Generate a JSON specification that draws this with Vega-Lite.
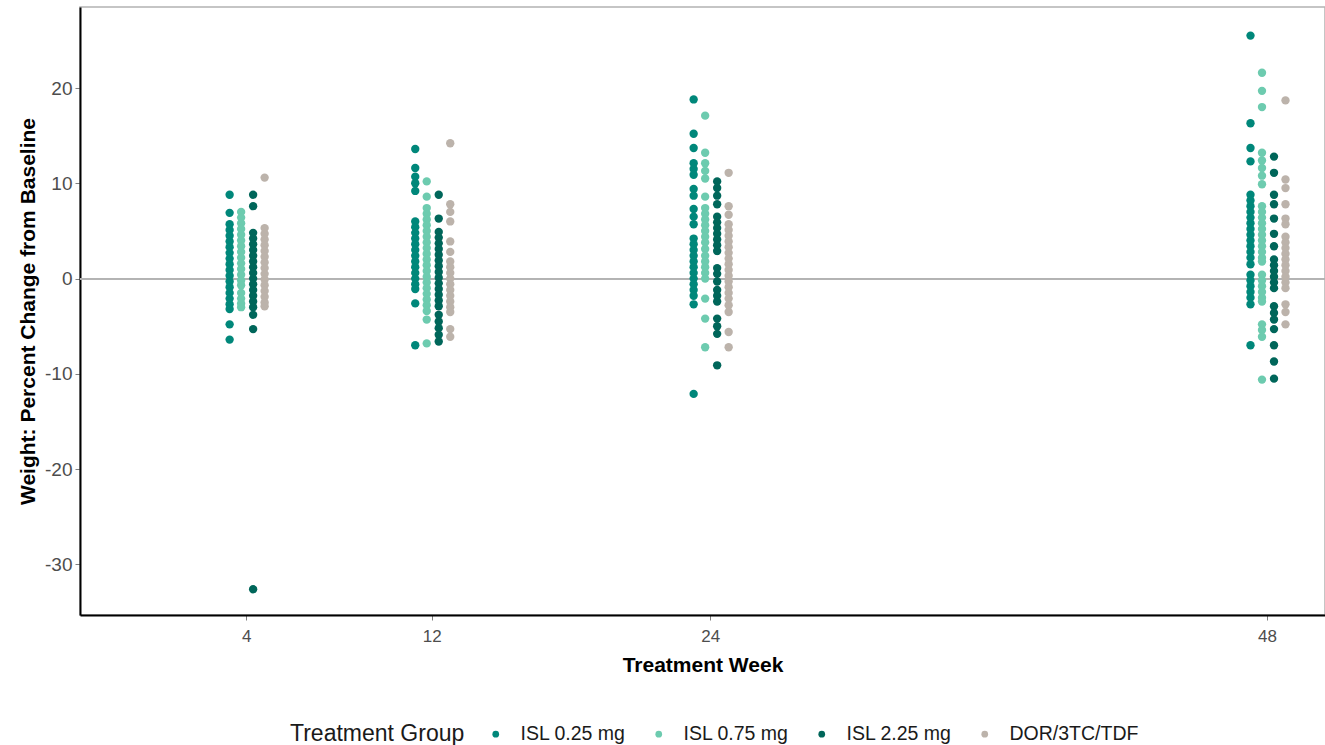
{
"$schema": "https://vega.github.io/schema/vega-lite/v6.json",
"width": 1245, "height": 608,
"autosize": "none",
"padding": {"left": 80, "top": 7, "right": 0, "bottom": 130},
"config": {
  "view": {"stroke": "#b3b3b3", "strokeWidth": 1.5},
  "font": "Liberation Sans",
  "axis": {"grid": false, "domainColor": "#000000", "domainWidth": 2, "tickColor": "#7f7f7f", "tickSize": 5, "tickWidth": 1, "labelColor": "#4d4d4d", "labelFontSize": 19, "titleFontSize": 21, "titleColor": "#000000", "titleFontWeight": "bold"}
},
"data": {"values": [
{"week":4,"group":"ISL 0.25 mg","pct":8.8},{"week":4,"group":"ISL 0.25 mg","pct":6.9},{"week":4,"group":"ISL 0.25 mg","pct":5.7},{"week":4,"group":"ISL 0.25 mg","pct":5.1},{"week":4,"group":"ISL 0.25 mg","pct":4.5},{"week":4,"group":"ISL 0.25 mg","pct":3.9},{"week":4,"group":"ISL 0.25 mg","pct":3.3},{"week":4,"group":"ISL 0.25 mg","pct":2.7},{"week":4,"group":"ISL 0.25 mg","pct":2.1},{"week":4,"group":"ISL 0.25 mg","pct":1.5},{"week":4,"group":"ISL 0.25 mg","pct":0.9},{"week":4,"group":"ISL 0.25 mg","pct":0.3},{"week":4,"group":"ISL 0.25 mg","pct":-0.3},{"week":4,"group":"ISL 0.25 mg","pct":-0.9},{"week":4,"group":"ISL 0.25 mg","pct":-1.5},{"week":4,"group":"ISL 0.25 mg","pct":-2.1},{"week":4,"group":"ISL 0.25 mg","pct":-2.7},{"week":4,"group":"ISL 0.25 mg","pct":-3.2},{"week":4,"group":"ISL 0.25 mg","pct":-4.8},{"week":4,"group":"ISL 0.25 mg","pct":-6.4},
{"week":4,"group":"ISL 0.75 mg","pct":7.0},{"week":4,"group":"ISL 0.75 mg","pct":6.4},{"week":4,"group":"ISL 0.75 mg","pct":5.8},{"week":4,"group":"ISL 0.75 mg","pct":5.2},{"week":4,"group":"ISL 0.75 mg","pct":4.6},{"week":4,"group":"ISL 0.75 mg","pct":4.0},{"week":4,"group":"ISL 0.75 mg","pct":3.4},{"week":4,"group":"ISL 0.75 mg","pct":2.8},{"week":4,"group":"ISL 0.75 mg","pct":2.2},{"week":4,"group":"ISL 0.75 mg","pct":1.6},{"week":4,"group":"ISL 0.75 mg","pct":1.0},{"week":4,"group":"ISL 0.75 mg","pct":0.4},{"week":4,"group":"ISL 0.75 mg","pct":-0.2},{"week":4,"group":"ISL 0.75 mg","pct":-0.7},{"week":4,"group":"ISL 0.75 mg","pct":-1.5},{"week":4,"group":"ISL 0.75 mg","pct":-2.1},{"week":4,"group":"ISL 0.75 mg","pct":-2.6},{"week":4,"group":"ISL 0.75 mg","pct":-3.0},
{"week":4,"group":"ISL 2.25 mg","pct":8.8},{"week":4,"group":"ISL 2.25 mg","pct":7.6},{"week":4,"group":"ISL 2.25 mg","pct":4.8},{"week":4,"group":"ISL 2.25 mg","pct":4.2},{"week":4,"group":"ISL 2.25 mg","pct":3.6},{"week":4,"group":"ISL 2.25 mg","pct":3.0},{"week":4,"group":"ISL 2.25 mg","pct":2.4},{"week":4,"group":"ISL 2.25 mg","pct":1.8},{"week":4,"group":"ISL 2.25 mg","pct":1.2},{"week":4,"group":"ISL 2.25 mg","pct":0.6},{"week":4,"group":"ISL 2.25 mg","pct":0.0},{"week":4,"group":"ISL 2.25 mg","pct":-0.6},{"week":4,"group":"ISL 2.25 mg","pct":-1.2},{"week":4,"group":"ISL 2.25 mg","pct":-1.8},{"week":4,"group":"ISL 2.25 mg","pct":-2.4},{"week":4,"group":"ISL 2.25 mg","pct":-3.0},{"week":4,"group":"ISL 2.25 mg","pct":-3.8},{"week":4,"group":"ISL 2.25 mg","pct":-5.3},{"week":4,"group":"ISL 2.25 mg","pct":-32.6},
{"week":4,"group":"DOR/3TC/TDF","pct":10.6},{"week":4,"group":"DOR/3TC/TDF","pct":5.3},{"week":4,"group":"DOR/3TC/TDF","pct":4.7},{"week":4,"group":"DOR/3TC/TDF","pct":4.1},{"week":4,"group":"DOR/3TC/TDF","pct":3.5},{"week":4,"group":"DOR/3TC/TDF","pct":2.9},{"week":4,"group":"DOR/3TC/TDF","pct":2.3},{"week":4,"group":"DOR/3TC/TDF","pct":1.7},{"week":4,"group":"DOR/3TC/TDF","pct":1.1},{"week":4,"group":"DOR/3TC/TDF","pct":0.5},{"week":4,"group":"DOR/3TC/TDF","pct":-0.1},{"week":4,"group":"DOR/3TC/TDF","pct":-0.7},{"week":4,"group":"DOR/3TC/TDF","pct":-1.3},{"week":4,"group":"DOR/3TC/TDF","pct":-1.9},{"week":4,"group":"DOR/3TC/TDF","pct":-2.5},{"week":4,"group":"DOR/3TC/TDF","pct":-2.9},
{"week":12,"group":"ISL 0.25 mg","pct":13.6},{"week":12,"group":"ISL 0.25 mg","pct":11.6},{"week":12,"group":"ISL 0.25 mg","pct":10.7},{"week":12,"group":"ISL 0.25 mg","pct":10.0},{"week":12,"group":"ISL 0.25 mg","pct":9.2},{"week":12,"group":"ISL 0.25 mg","pct":6.0},{"week":12,"group":"ISL 0.25 mg","pct":5.4},{"week":12,"group":"ISL 0.25 mg","pct":4.8},{"week":12,"group":"ISL 0.25 mg","pct":4.2},{"week":12,"group":"ISL 0.25 mg","pct":3.6},{"week":12,"group":"ISL 0.25 mg","pct":3.0},{"week":12,"group":"ISL 0.25 mg","pct":2.4},{"week":12,"group":"ISL 0.25 mg","pct":1.8},{"week":12,"group":"ISL 0.25 mg","pct":1.2},{"week":12,"group":"ISL 0.25 mg","pct":0.6},{"week":12,"group":"ISL 0.25 mg","pct":0.0},{"week":12,"group":"ISL 0.25 mg","pct":-0.6},{"week":12,"group":"ISL 0.25 mg","pct":-1.1},{"week":12,"group":"ISL 0.25 mg","pct":-2.6},{"week":12,"group":"ISL 0.25 mg","pct":-7.0},
{"week":12,"group":"ISL 0.75 mg","pct":10.2},{"week":12,"group":"ISL 0.75 mg","pct":8.6},{"week":12,"group":"ISL 0.75 mg","pct":7.4},{"week":12,"group":"ISL 0.75 mg","pct":6.8},{"week":12,"group":"ISL 0.75 mg","pct":6.2},{"week":12,"group":"ISL 0.75 mg","pct":5.6},{"week":12,"group":"ISL 0.75 mg","pct":5.0},{"week":12,"group":"ISL 0.75 mg","pct":4.4},{"week":12,"group":"ISL 0.75 mg","pct":3.8},{"week":12,"group":"ISL 0.75 mg","pct":3.2},{"week":12,"group":"ISL 0.75 mg","pct":2.6},{"week":12,"group":"ISL 0.75 mg","pct":2.0},{"week":12,"group":"ISL 0.75 mg","pct":1.4},{"week":12,"group":"ISL 0.75 mg","pct":0.8},{"week":12,"group":"ISL 0.75 mg","pct":0.2},{"week":12,"group":"ISL 0.75 mg","pct":-0.4},{"week":12,"group":"ISL 0.75 mg","pct":-1.0},{"week":12,"group":"ISL 0.75 mg","pct":-1.6},{"week":12,"group":"ISL 0.75 mg","pct":-2.2},{"week":12,"group":"ISL 0.75 mg","pct":-2.8},{"week":12,"group":"ISL 0.75 mg","pct":-3.4},{"week":12,"group":"ISL 0.75 mg","pct":-4.3},{"week":12,"group":"ISL 0.75 mg","pct":-6.8},
{"week":12,"group":"ISL 2.25 mg","pct":8.8},{"week":12,"group":"ISL 2.25 mg","pct":6.3},{"week":12,"group":"ISL 2.25 mg","pct":4.9},{"week":12,"group":"ISL 2.25 mg","pct":4.3},{"week":12,"group":"ISL 2.25 mg","pct":3.7},{"week":12,"group":"ISL 2.25 mg","pct":3.1},{"week":12,"group":"ISL 2.25 mg","pct":2.5},{"week":12,"group":"ISL 2.25 mg","pct":1.9},{"week":12,"group":"ISL 2.25 mg","pct":1.3},{"week":12,"group":"ISL 2.25 mg","pct":0.7},{"week":12,"group":"ISL 2.25 mg","pct":0.1},{"week":12,"group":"ISL 2.25 mg","pct":-0.5},{"week":12,"group":"ISL 2.25 mg","pct":-1.1},{"week":12,"group":"ISL 2.25 mg","pct":-1.7},{"week":12,"group":"ISL 2.25 mg","pct":-2.3},{"week":12,"group":"ISL 2.25 mg","pct":-2.9},{"week":12,"group":"ISL 2.25 mg","pct":-3.8},{"week":12,"group":"ISL 2.25 mg","pct":-4.5},{"week":12,"group":"ISL 2.25 mg","pct":-5.2},{"week":12,"group":"ISL 2.25 mg","pct":-5.9},{"week":12,"group":"ISL 2.25 mg","pct":-6.6},
{"week":12,"group":"DOR/3TC/TDF","pct":14.2},{"week":12,"group":"DOR/3TC/TDF","pct":7.8},{"week":12,"group":"DOR/3TC/TDF","pct":7.0},{"week":12,"group":"DOR/3TC/TDF","pct":6.0},{"week":12,"group":"DOR/3TC/TDF","pct":3.9},{"week":12,"group":"DOR/3TC/TDF","pct":2.8},{"week":12,"group":"DOR/3TC/TDF","pct":1.8},{"week":12,"group":"DOR/3TC/TDF","pct":1.2},{"week":12,"group":"DOR/3TC/TDF","pct":0.6},{"week":12,"group":"DOR/3TC/TDF","pct":0.0},{"week":12,"group":"DOR/3TC/TDF","pct":-0.6},{"week":12,"group":"DOR/3TC/TDF","pct":-1.2},{"week":12,"group":"DOR/3TC/TDF","pct":-1.8},{"week":12,"group":"DOR/3TC/TDF","pct":-2.4},{"week":12,"group":"DOR/3TC/TDF","pct":-3.0},{"week":12,"group":"DOR/3TC/TDF","pct":-3.5},{"week":12,"group":"DOR/3TC/TDF","pct":-5.3},{"week":12,"group":"DOR/3TC/TDF","pct":-6.1},
{"week":24,"group":"ISL 0.25 mg","pct":18.8},{"week":24,"group":"ISL 0.25 mg","pct":15.2},{"week":24,"group":"ISL 0.25 mg","pct":13.7},{"week":24,"group":"ISL 0.25 mg","pct":12.1},{"week":24,"group":"ISL 0.25 mg","pct":11.5},{"week":24,"group":"ISL 0.25 mg","pct":10.9},{"week":24,"group":"ISL 0.25 mg","pct":9.4},{"week":24,"group":"ISL 0.25 mg","pct":8.7},{"week":24,"group":"ISL 0.25 mg","pct":7.3},{"week":24,"group":"ISL 0.25 mg","pct":6.5},{"week":24,"group":"ISL 0.25 mg","pct":5.7},{"week":24,"group":"ISL 0.25 mg","pct":4.2},{"week":24,"group":"ISL 0.25 mg","pct":3.6},{"week":24,"group":"ISL 0.25 mg","pct":3.0},{"week":24,"group":"ISL 0.25 mg","pct":2.4},{"week":24,"group":"ISL 0.25 mg","pct":1.8},{"week":24,"group":"ISL 0.25 mg","pct":1.2},{"week":24,"group":"ISL 0.25 mg","pct":0.6},{"week":24,"group":"ISL 0.25 mg","pct":0.0},{"week":24,"group":"ISL 0.25 mg","pct":-0.6},{"week":24,"group":"ISL 0.25 mg","pct":-1.2},{"week":24,"group":"ISL 0.25 mg","pct":-1.8},{"week":24,"group":"ISL 0.25 mg","pct":-2.7},{"week":24,"group":"ISL 0.25 mg","pct":-12.1},
{"week":24,"group":"ISL 0.75 mg","pct":17.1},{"week":24,"group":"ISL 0.75 mg","pct":13.2},{"week":24,"group":"ISL 0.75 mg","pct":12.1},{"week":24,"group":"ISL 0.75 mg","pct":11.3},{"week":24,"group":"ISL 0.75 mg","pct":10.5},{"week":24,"group":"ISL 0.75 mg","pct":8.6},{"week":24,"group":"ISL 0.75 mg","pct":7.4},{"week":24,"group":"ISL 0.75 mg","pct":6.8},{"week":24,"group":"ISL 0.75 mg","pct":6.2},{"week":24,"group":"ISL 0.75 mg","pct":5.6},{"week":24,"group":"ISL 0.75 mg","pct":5.0},{"week":24,"group":"ISL 0.75 mg","pct":4.4},{"week":24,"group":"ISL 0.75 mg","pct":3.8},{"week":24,"group":"ISL 0.75 mg","pct":3.1},{"week":24,"group":"ISL 0.75 mg","pct":2.4},{"week":24,"group":"ISL 0.75 mg","pct":1.8},{"week":24,"group":"ISL 0.75 mg","pct":1.2},{"week":24,"group":"ISL 0.75 mg","pct":0.6},{"week":24,"group":"ISL 0.75 mg","pct":0.0},{"week":24,"group":"ISL 0.75 mg","pct":-2.1},{"week":24,"group":"ISL 0.75 mg","pct":-4.2},{"week":24,"group":"ISL 0.75 mg","pct":-7.2},
{"week":24,"group":"ISL 2.25 mg","pct":10.2},{"week":24,"group":"ISL 2.25 mg","pct":9.5},{"week":24,"group":"ISL 2.25 mg","pct":8.7},{"week":24,"group":"ISL 2.25 mg","pct":7.8},{"week":24,"group":"ISL 2.25 mg","pct":6.5},{"week":24,"group":"ISL 2.25 mg","pct":5.9},{"week":24,"group":"ISL 2.25 mg","pct":5.3},{"week":24,"group":"ISL 2.25 mg","pct":4.7},{"week":24,"group":"ISL 2.25 mg","pct":4.1},{"week":24,"group":"ISL 2.25 mg","pct":3.5},{"week":24,"group":"ISL 2.25 mg","pct":2.9},{"week":24,"group":"ISL 2.25 mg","pct":1.1},{"week":24,"group":"ISL 2.25 mg","pct":0.5},{"week":24,"group":"ISL 2.25 mg","pct":-0.3},{"week":24,"group":"ISL 2.25 mg","pct":-1.2},{"week":24,"group":"ISL 2.25 mg","pct":-1.8},{"week":24,"group":"ISL 2.25 mg","pct":-2.4},{"week":24,"group":"ISL 2.25 mg","pct":-4.2},{"week":24,"group":"ISL 2.25 mg","pct":-5.0},{"week":24,"group":"ISL 2.25 mg","pct":-5.8},{"week":24,"group":"ISL 2.25 mg","pct":-9.1},
{"week":24,"group":"DOR/3TC/TDF","pct":11.1},{"week":24,"group":"DOR/3TC/TDF","pct":7.6},{"week":24,"group":"DOR/3TC/TDF","pct":6.7},{"week":24,"group":"DOR/3TC/TDF","pct":5.7},{"week":24,"group":"DOR/3TC/TDF","pct":5.1},{"week":24,"group":"DOR/3TC/TDF","pct":4.5},{"week":24,"group":"DOR/3TC/TDF","pct":3.9},{"week":24,"group":"DOR/3TC/TDF","pct":3.3},{"week":24,"group":"DOR/3TC/TDF","pct":2.7},{"week":24,"group":"DOR/3TC/TDF","pct":2.1},{"week":24,"group":"DOR/3TC/TDF","pct":1.5},{"week":24,"group":"DOR/3TC/TDF","pct":0.9},{"week":24,"group":"DOR/3TC/TDF","pct":0.3},{"week":24,"group":"DOR/3TC/TDF","pct":-0.3},{"week":24,"group":"DOR/3TC/TDF","pct":-0.9},{"week":24,"group":"DOR/3TC/TDF","pct":-1.5},{"week":24,"group":"DOR/3TC/TDF","pct":-2.1},{"week":24,"group":"DOR/3TC/TDF","pct":-2.8},{"week":24,"group":"DOR/3TC/TDF","pct":-3.5},{"week":24,"group":"DOR/3TC/TDF","pct":-5.6},{"week":24,"group":"DOR/3TC/TDF","pct":-7.2},
{"week":48,"group":"ISL 0.25 mg","pct":25.5},{"week":48,"group":"ISL 0.25 mg","pct":16.3},{"week":48,"group":"ISL 0.25 mg","pct":13.7},{"week":48,"group":"ISL 0.25 mg","pct":12.3},{"week":48,"group":"ISL 0.25 mg","pct":8.8},{"week":48,"group":"ISL 0.25 mg","pct":8.2},{"week":48,"group":"ISL 0.25 mg","pct":7.6},{"week":48,"group":"ISL 0.25 mg","pct":7.0},{"week":48,"group":"ISL 0.25 mg","pct":6.4},{"week":48,"group":"ISL 0.25 mg","pct":5.8},{"week":48,"group":"ISL 0.25 mg","pct":5.2},{"week":48,"group":"ISL 0.25 mg","pct":4.6},{"week":48,"group":"ISL 0.25 mg","pct":4.0},{"week":48,"group":"ISL 0.25 mg","pct":3.4},{"week":48,"group":"ISL 0.25 mg","pct":2.8},{"week":48,"group":"ISL 0.25 mg","pct":2.2},{"week":48,"group":"ISL 0.25 mg","pct":1.5},{"week":48,"group":"ISL 0.25 mg","pct":0.4},{"week":48,"group":"ISL 0.25 mg","pct":-0.2},{"week":48,"group":"ISL 0.25 mg","pct":-0.8},{"week":48,"group":"ISL 0.25 mg","pct":-1.4},{"week":48,"group":"ISL 0.25 mg","pct":-2.0},{"week":48,"group":"ISL 0.25 mg","pct":-2.7},{"week":48,"group":"ISL 0.25 mg","pct":-7.0},
{"week":48,"group":"ISL 0.75 mg","pct":21.6},{"week":48,"group":"ISL 0.75 mg","pct":19.7},{"week":48,"group":"ISL 0.75 mg","pct":18.0},{"week":48,"group":"ISL 0.75 mg","pct":13.2},{"week":48,"group":"ISL 0.75 mg","pct":12.4},{"week":48,"group":"ISL 0.75 mg","pct":11.6},{"week":48,"group":"ISL 0.75 mg","pct":10.8},{"week":48,"group":"ISL 0.75 mg","pct":9.9},{"week":48,"group":"ISL 0.75 mg","pct":7.6},{"week":48,"group":"ISL 0.75 mg","pct":7.0},{"week":48,"group":"ISL 0.75 mg","pct":6.4},{"week":48,"group":"ISL 0.75 mg","pct":5.8},{"week":48,"group":"ISL 0.75 mg","pct":5.2},{"week":48,"group":"ISL 0.75 mg","pct":4.6},{"week":48,"group":"ISL 0.75 mg","pct":4.0},{"week":48,"group":"ISL 0.75 mg","pct":3.4},{"week":48,"group":"ISL 0.75 mg","pct":2.8},{"week":48,"group":"ISL 0.75 mg","pct":2.2},{"week":48,"group":"ISL 0.75 mg","pct":1.8},{"week":48,"group":"ISL 0.75 mg","pct":0.4},{"week":48,"group":"ISL 0.75 mg","pct":-0.2},{"week":48,"group":"ISL 0.75 mg","pct":-0.8},{"week":48,"group":"ISL 0.75 mg","pct":-1.4},{"week":48,"group":"ISL 0.75 mg","pct":-2.0},{"week":48,"group":"ISL 0.75 mg","pct":-2.4},{"week":48,"group":"ISL 0.75 mg","pct":-4.8},{"week":48,"group":"ISL 0.75 mg","pct":-5.4},{"week":48,"group":"ISL 0.75 mg","pct":-6.1},{"week":48,"group":"ISL 0.75 mg","pct":-10.6},
{"week":48,"group":"ISL 2.25 mg","pct":12.8},{"week":48,"group":"ISL 2.25 mg","pct":11.1},{"week":48,"group":"ISL 2.25 mg","pct":8.8},{"week":48,"group":"ISL 2.25 mg","pct":7.8},{"week":48,"group":"ISL 2.25 mg","pct":6.3},{"week":48,"group":"ISL 2.25 mg","pct":4.7},{"week":48,"group":"ISL 2.25 mg","pct":3.4},{"week":48,"group":"ISL 2.25 mg","pct":2.0},{"week":48,"group":"ISL 2.25 mg","pct":1.4},{"week":48,"group":"ISL 2.25 mg","pct":0.8},{"week":48,"group":"ISL 2.25 mg","pct":0.2},{"week":48,"group":"ISL 2.25 mg","pct":-0.4},{"week":48,"group":"ISL 2.25 mg","pct":-1.0},{"week":48,"group":"ISL 2.25 mg","pct":-2.9},{"week":48,"group":"ISL 2.25 mg","pct":-3.6},{"week":48,"group":"ISL 2.25 mg","pct":-4.3},{"week":48,"group":"ISL 2.25 mg","pct":-5.3},{"week":48,"group":"ISL 2.25 mg","pct":-7.0},{"week":48,"group":"ISL 2.25 mg","pct":-8.7},{"week":48,"group":"ISL 2.25 mg","pct":-10.5},
{"week":48,"group":"DOR/3TC/TDF","pct":18.7},{"week":48,"group":"DOR/3TC/TDF","pct":10.4},{"week":48,"group":"DOR/3TC/TDF","pct":9.5},{"week":48,"group":"DOR/3TC/TDF","pct":7.8},{"week":48,"group":"DOR/3TC/TDF","pct":6.3},{"week":48,"group":"DOR/3TC/TDF","pct":5.7},{"week":48,"group":"DOR/3TC/TDF","pct":4.4},{"week":48,"group":"DOR/3TC/TDF","pct":3.8},{"week":48,"group":"DOR/3TC/TDF","pct":3.2},{"week":48,"group":"DOR/3TC/TDF","pct":2.6},{"week":48,"group":"DOR/3TC/TDF","pct":2.0},{"week":48,"group":"DOR/3TC/TDF","pct":1.4},{"week":48,"group":"DOR/3TC/TDF","pct":0.8},{"week":48,"group":"DOR/3TC/TDF","pct":0.2},{"week":48,"group":"DOR/3TC/TDF","pct":-0.4},{"week":48,"group":"DOR/3TC/TDF","pct":-1.0},{"week":48,"group":"DOR/3TC/TDF","pct":-2.7},{"week":48,"group":"DOR/3TC/TDF","pct":-3.5},{"week":48,"group":"DOR/3TC/TDF","pct":-4.8}
]},
"encoding": {
  "x": {"field": "week", "type": "quantitative", "title": "Treatment Week", "scale": {"domain": [-3.16, 50.5], "nice": false, "zero": false}, "axis": {"values": [4, 12, 24, 48], "labelPadding": 8, "titlePadding": 10, "labelFontSize": 17}},
  "y": {"field": "pct", "type": "quantitative", "title": "Weight: Percent Change from Baseline", "scale": {"domain": [-35.3, 28.5], "nice": false, "zero": false}, "axis": {"values": [-30, -20, -10, 0, 10, 20], "labelExpr": "replace(datum.label, '\u2212', '-')", "labelPadding": 3, "titlePadding": 6}},
  "color": {"field": "group", "type": "nominal", "title": "Treatment Group",
    "scale": {"domain": ["ISL 0.25 mg", "ISL 0.75 mg", "ISL 2.25 mg", "DOR/3TC/TDF"], "range": ["#00877A", "#6DCBAF", "#00665A", "#BCB3AB"]},
    "legend": {"orient": "none", "legendX": 210, "legendY": 717, "direction": "horizontal", "titleOrient": "left", "titleFontSize": 23, "titleFontWeight": "normal", "titleColor": "#1a1a1a", "titlePadding": 21, "titleLimit": 400, "labelFontSize": 19.5, "labelColor": "#1a1a1a", "labelLimit": 300, "symbolType": "circle", "symbolSize": 45, "symbolStrokeWidth": 0, "labelOffset": 15, "columnPadding": 23}}
},
"layer": [
  {"mark": {"type": "rule", "color": "#b3b3b3", "strokeWidth": 1.3}, "encoding": {"y": {"datum": 0}, "x": null, "color": null}},
  {"transform": [{"filter": "datum.group === 'ISL 0.25 mg'"}], "mark": {"type": "circle", "size": 70, "opacity": 1, "xOffset": -16.5}},
  {"transform": [{"filter": "datum.group === 'ISL 0.75 mg'"}], "mark": {"type": "circle", "size": 70, "opacity": 1, "xOffset": -5}},
  {"transform": [{"filter": "datum.group === 'ISL 2.25 mg'"}], "mark": {"type": "circle", "size": 70, "opacity": 1, "xOffset": 7}},
  {"transform": [{"filter": "datum.group === 'DOR/3TC/TDF'"}], "mark": {"type": "circle", "size": 70, "opacity": 1, "xOffset": 18.5}}
]
}
